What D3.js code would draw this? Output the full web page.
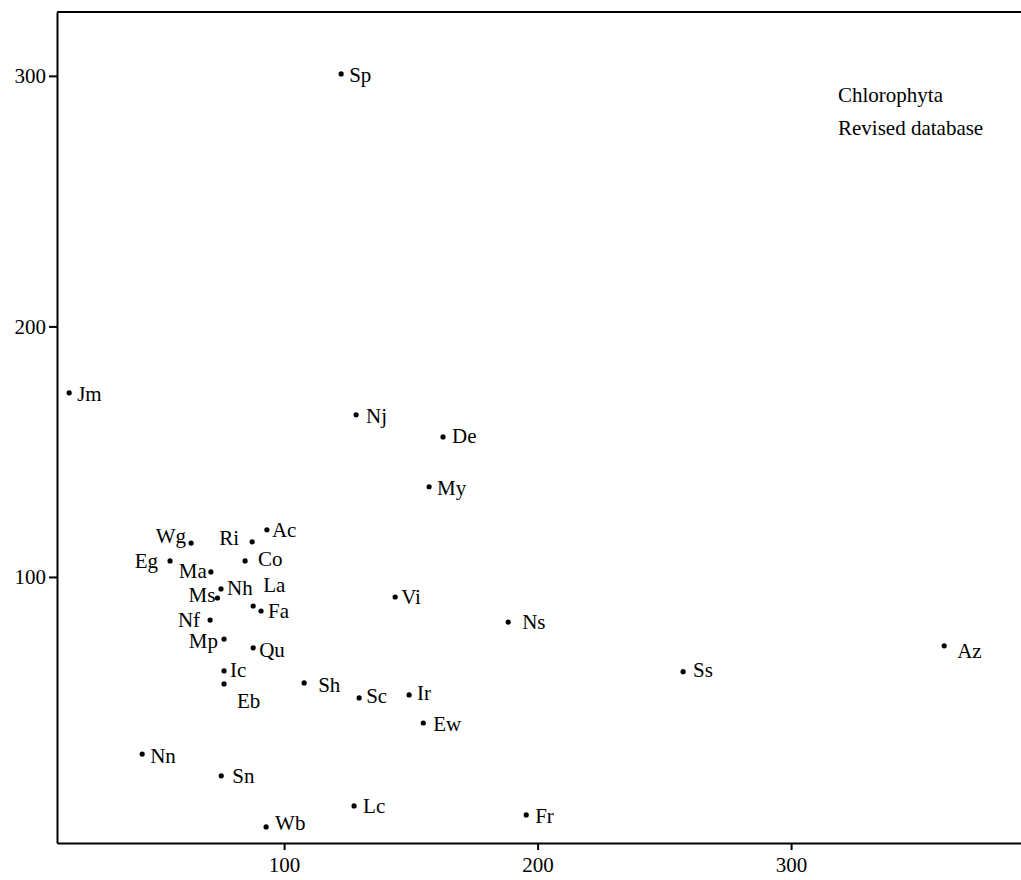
<!DOCTYPE html>
<html>
<head>
<meta charset="utf-8">
<script src="https://cdn.jsdelivr.net/npm/d3@7"></script>
<style>
body { margin: 0; background: #fff; }
text { font-family: "Liberation Serif", "DejaVu Serif", serif; fill: #000; }
</style>
</head>
<body>
<svg id="svg1"></svg>
<script>
// taxa codes and their coordinates
var names = ['Sp', 'Jm', 'Nj', 'De', 'My', 'Wg', 'Ri', 'Ac', 'Eg', 'Co', 'Ma', 'Nh',
             'Ms', 'La', 'Fa', 'Vi', 'Nf', 'Ns', 'Mp', 'Qu', 'Az', 'Ic', 'Ss', 'Eb',
             'Sh', 'Sc', 'Ir', 'Ew', 'Nn', 'Sn', 'Lc', 'Fr', 'Wb'];
var xVals = [122.5, 15.2, 128.4, 162.7, 157.2, 63.3, 87.4, 93.2, 55.0, 84.6, 71.1, 75.1,
             73.7, 87.8, 90.9, 143.8, 70.8, 188.4, 76.3, 87.8, 360.4, 76.3, 257.4, 76.3,
             107.9, 129.6, 149.3, 154.9, 44.0, 75.2, 127.6, 195.5, 92.9];
var yVals = [300.8, 173.5, 164.7, 155.9, 136.0, 113.5, 114.0, 118.8, 106.4, 106.4, 102.0, 95.2,
             91.6, 88.4, 86.4, 92.0, 82.8, 82.0, 75.2, 71.7, 72.5, 62.5, 62.2, 57.3,
             57.7, 51.7, 52.9, 41.7, 29.3, 20.6, 8.6, 5.0, 0.2];
var xTicks = [100, 200, 300];
var yTicks = [100, 200, 300];
var legendLines = ['Chlorophyta', 'Revised database'];

// label placement relative to each dot: [dx, dy], negative dx = label on the left
var labelOffsets = {
    Sp: [8, 8], Jm: [8, 8], Nj: [10, 8], De: [9, 6], My: [8, 8],
    Wg: [-5, 0], Ri: [-13, 3], Ac: [5, 7], Eg: [-12, 7], Co: [13, 5],
    Ma: [-4, 6], Nh: [6, 6], Ms: [-2, 4], La: [10, -14], Fa: [7, 7],
    Vi: [6, 7], Nf: [-10, 7], Ns: [14, 7], Mp: [-6, 9], Qu: [6, 9],
    Az: [13, 12], Ic: [6, 6], Ss: [10, 5], Eb: [13, 24], Sh: [14, 9],
    Sc: [7, 5], Ir: [8, 5], Ew: [10, 8], Nn: [8, 9], Sn: [11, 7],
    Lc: [9, 7], Fr: [9, 8], Wb: [9, 3]
};

var width = 1021, height = 880;
var mLeft = 57, mTop = 12, mRight = 1021, mBottom = 843;

var svg = d3.select('#svg1').attr('width', width).attr('height', height);

var xScale = d3.scaleLinear().domain([10.4, 390.7]).range([mLeft, mRight]);
var yScale = d3.scaleLinear().domain([-6.2, 325.5]).range([mBottom, mTop]);

var data = names.map(function(n, i) { return {name: n, x: xVals[i], y: yVals[i]}; });

// frame top line (no right edge visible)
svg.append('line')
    .attr('x1', mLeft).attr('x2', mRight)
    .attr('y1', mTop).attr('y2', mTop)
    .attr('stroke', '#000').attr('stroke-width', 2);

var xAxis = d3.axisBottom(xScale).tickValues(xTicks).tickSize(7).tickSizeOuter(0).tickPadding(7);
var yAxis = d3.axisLeft(yScale).tickValues(yTicks).tickSize(8).tickSizeOuter(0).tickPadding(3);

var gx = svg.append('g')
    .attr('transform', 'translate(0,' + mBottom + ')')
    .call(xAxis);
var gy = svg.append('g')
    .attr('transform', 'translate(' + mLeft + ',0)')
    .call(yAxis);

[gx, gy].forEach(function(g) {
    g.attr('font-size', 21).attr('font-family', '"Liberation Serif", serif');
    g.select('.domain').attr('stroke', '#000').attr('stroke-width', 2);
    g.selectAll('.tick line').attr('stroke', '#000').attr('stroke-width', 2);
    g.selectAll('.tick text')
        .style('font-size', '21px')
        .attr('fill', '#000');
});

var pts = svg.append('g');
pts.selectAll('circle').data(data).enter()
    .append('circle')
    .attr('cx', function(d) { return xScale(d.x); })
    .attr('cy', function(d) { return yScale(d.y); })
    .attr('r', 2.6)
    .attr('fill', '#000');

pts.selectAll('text').data(data).enter()
    .append('text')
    .attr('x', function(d) { return xScale(d.x) + labelOffsets[d.name][0]; })
    .attr('y', function(d) { return yScale(d.y) + labelOffsets[d.name][1]; })
    .attr('text-anchor', function(d) { return labelOffsets[d.name][0] < 0 ? 'end' : 'start'; })
    .style('font-size', '21px')
    .text(function(d) { return d.name; });

svg.append('g').selectAll('text').data(legendLines).enter()
    .append('text')
    .attr('x', 838)
    .attr('y', function(d, i) { return 102 + i * 33; })
    .style('font-size', '21px')
    .text(function(d) { return d; });
</script>
</body>
</html>
